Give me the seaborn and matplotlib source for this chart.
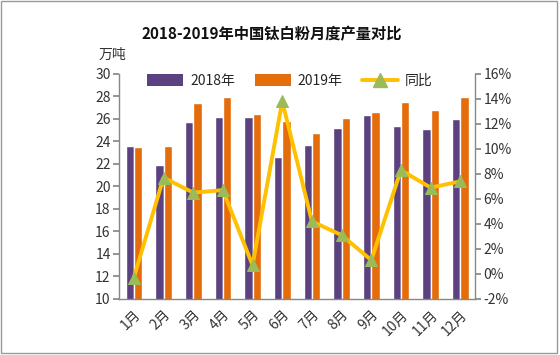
import pandas as pd
import numpy as np
import seaborn as sns
import matplotlib.pyplot as plt
from matplotlib.lines import Line2D
from matplotlib.patches import Patch, Rectangle
from matplotlib.ticker import FuncFormatter

# Data
months = ["1月", "2月", "3月", "4月", "5月", "6月", "7月", "8月", "9月", "10月", "11月", "12月"]
output_2018 = [23.6, 21.9, 25.7, 26.2, 26.2, 22.6, 23.7, 25.2, 26.3, 25.4, 25.1, 26.0]
output_2019 = [23.5, 23.6, 27.4, 27.9, 26.4, 25.8, 24.7, 26.1, 26.6, 27.5, 26.8, 27.9]
yoy_pct = [-0.3, 7.7, 6.5, 6.7, 0.7, 13.8, 4.2, 3.1, 1.1, 8.3, 6.9, 7.4]

sns.set_theme(style="white")
plt.rcParams['font.family'] = ['Noto Sans CJK SC', 'DejaVu Sans']
plt.rcParams['axes.unicode_minus'] = False

purple = "#5B4180"
orange = "#E46C0A"
gold = "#FFC000"
green = "#9BBB59"
gray = "#888888"

df = pd.DataFrame({
    "month": months * 2,
    "value": output_2018 + output_2019,
    "year": ["2018年"] * 12 + ["2019年"] * 12,
})

fig = plt.figure(figsize=(5.6, 3.55), dpi=100)
ax = fig.add_axes([0.2125, 0.158, 0.636, 0.634])

sns.barplot(data=df, x="month", y="value", hue="year",
            palette=[purple, orange], width=0.56, ax=ax,
            legend=False, saturation=1)
ax.set_ylim(10, 30)
ax.set_yticks(range(10, 31, 2))
ax.set_xlim(-0.5, 11.5)
ax.set_xlabel("")
ax.set_ylabel("")

# secondary axis for year-on-year change
ax2 = ax.twinx()
line_df = pd.DataFrame({"month": np.arange(12), "yoy": yoy_pct})
sns.lineplot(data=line_df, x="month", y="yoy", ax=ax2, color=gold,
             linewidth=2.8, marker="^", markersize=9,
             markerfacecolor=green, markeredgecolor=green)
ax2.set_ylim(-2, 16)
ax2.set_yticks(range(-2, 17, 2))
ax2.yaxis.set_major_formatter(FuncFormatter(lambda v, p: f"{v:.0f}%"))
ax2.set_xlim(-0.5, 11.5)
ax2.set_ylabel("")
ax2.set_xlabel("")

# category boundaries as tick marks on x axis
ax.set_xticks(np.arange(12))
ax.set_xticklabels(months, rotation=45, ha="right", rotation_mode="anchor",
                   fontsize=10, color="#333333")
ax.set_xticks(np.arange(-0.5, 12, 1), minor=True)
ax.tick_params(axis="x", which="major", length=0, pad=6)
ax.tick_params(axis="x", which="minor", length=4, color=gray, direction="out")
ax.tick_params(axis="y", length=4, color=gray, direction="out", labelsize=10,
               labelcolor="#333333", pad=2)
ax2.tick_params(axis="y", length=4, color=gray, direction="out", labelsize=10,
                labelcolor="#333333", pad=2)

for a in (ax, ax2):
    a.spines["top"].set_visible(False)
    for s in ("left", "right", "bottom"):
        a.spines[s].set_color(gray)
        a.spines[s].set_linewidth(1)
ax.spines["right"].set_visible(False)
ax2.spines["left"].set_visible(False)
ax2.spines["bottom"].set_visible(False)

handles = [
    Patch(facecolor=purple, edgecolor="none"),
    Patch(facecolor=orange, edgecolor="none"),
    Line2D([0], [0], color=gold, linewidth=2.8, marker="^", markersize=10,
           markerfacecolor=green, markeredgecolor=green),
]
ax2.legend(handles, ["2018年", "2019年", "同比"], loc="upper center",
           bbox_to_anchor=(0.48, 1.055), ncol=3, frameon=False, fontsize=10,
           handlelength=2.6, handleheight=0.9, columnspacing=1.4,
           handletextpad=0.5)

fig.text(0.486, 0.905, "2018-2019年中国钛白粉月度产量对比", ha="center",
         va="center", fontsize=11, fontweight="bold", color="#111111")
fig.text(0.2, 0.845, "万吨", ha="center", va="center", fontsize=10,
         color="#333333")

fig.patches.append(Rectangle((0.002, 0.006), 0.992, 0.99, transform=fig.transFigure,
                             fill=False, edgecolor="#999999", linewidth=1))

plt.savefig("out.png", dpi=100)
